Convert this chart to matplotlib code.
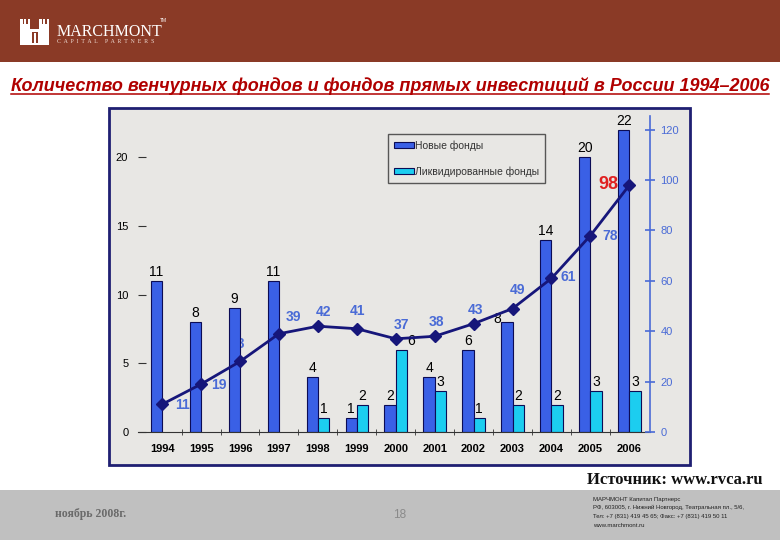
import matplotlib
matplotlib.use("Agg")
import matplotlib.pyplot as plt
from matplotlib.patches import Rectangle
from matplotlib.lines import Line2D
import numpy as np

# ---- data ----
years = ["1994", "1995", "1996", "1997", "1998", "1999", "2000",
         "2001", "2002", "2003", "2004", "2005", "2006"]
new_funds = [11, 8, 9, 11, 4, 1, 2, 4, 6, 8, 14, 20, 22]
liquidated = [0, 0, 0, 0, 1, 2, 6, 3, 1, 2, 2, 3, 3]
total_funds = [11, 19, 28, 39, 42, 41, 37, 38, 43, 49, 61, 78, 98]
legend_labels = ["Новые фонды", "Ликвидированные фонды"]
left_ticks = [0, 5, 10, 15, 20]
right_ticks = [0, 20, 40, 60, 80, 100, 120]

title = "Количество венчурных фондов и фондов прямых инвестиций в России 1994–2006"
source = "Источник: www.rvca.ru"
footer_date = "ноябрь 2008г."
page_no = "18"
contacts = ["МАРЧМОНТ Капитал Партнерс",
            "РФ, 603005, г. Нижний Новгород, Театральная пл., 5/6,",
            "Тел: +7 (831) 419 45 65; Факс: +7 (831) 419 50 11",
            "www.marchmont.ru"]

# label nudges in pixels (style, not data)
line_lbl_off = [(20, -1), (18, -1), (-3, 17), (15, 17), (6, 14), (1, 18), (6, 14),
                (2, 14), (2, 14), (5, 19), (17, 1), (20, 0), (-21, 1)]
new_lbl_off = {9: (-10, -6)}
liq_lbl_off = {6: (10, 0)}

NEW_C = "#3a60e6"
LIQ_C = "#1ccdf0"
EDGE_C = "#0c0c55"
LINE_C = "#16167a"
LBL_C = "#4a6bd6"
AX_BLUE = "#4a6bd6"

W, H = 780, 540
plt.rcParams["font.family"] = ["Liberation Sans", "DejaVu Sans"]
fig = plt.figure(figsize=(W / 100, H / 100), dpi=100)
fig.patch.set_facecolor("white")


def fx(px):
    return px / W


def fy(py):
    return 1 - py / H


def box(x0, y0, x1, y1, **kw):
    r = Rectangle((fx(x0), fy(y1)), (x1 - x0) / W, (y1 - y0) / H,
                  transform=fig.transFigure, **kw)
    fig.add_artist(r)
    return r


# header band + logo
HEAD = "#8a3a26"
box(0, 0, W, 62, facecolor=HEAD, edgecolor="none", zorder=0)
for (a, b, c, d) in [(20, 24, 30, 45), (39, 24, 49, 45), (30, 29, 39, 45),
                     (20, 19, 22.5, 24), (23.8, 19, 26.2, 24), (27.5, 19, 30, 24),
                     (39, 19, 41.5, 24), (42.8, 19, 45.2, 24), (46.5, 19, 49, 24)]:
    box(a, b, c, d, facecolor="white", edgecolor="none", zorder=1)
box(31.5, 32, 37.5, 43, facecolor=HEAD, edgecolor="none", zorder=2)
box(33.5, 33, 35.5, 43, facecolor="white", edgecolor="none", zorder=3)
fig.text(fx(57), fy(32), "MARCHMONT", color="white", fontsize=11.5,
         family="Liberation Serif", ha="left", va="center")
fig.text(fx(160), fy(21), "TM", color="white", fontsize=3.5, ha="left", va="center")
fig.text(fx(57), fy(42), "C  A  P  I  T  A  L     P  A  R  T  N  E  R  S", color="#f0dcd4",
         fontsize=4.2, family="Liberation Serif", ha="left", va="center")

# title with underline
t = fig.text(fx(390), fy(86), title, ha="center", va="center", color="#b00000",
             fontsize=13, fontstyle="italic", fontweight="bold")

# chart panel
box(109, 108, 690, 465, facecolor="#e8e7e4", edgecolor="#1f1f72", lw=2, zorder=0)

ax = fig.add_axes([fx(138), fy(432), (650 - 138) / W, (432 - 116) / H])
ax.patch.set_alpha(0)
ax2 = ax.twinx()
ax2.patch.set_alpha(0)

x = np.arange(len(years))
w = 0.29
bn = ax.bar(x - w / 2, new_funds, w, color=NEW_C, edgecolor=EDGE_C, lw=0.8,
            zorder=2, label=legend_labels[0])
liq_idx = [i for i, v in enumerate(liquidated) if v > 0]
bl = ax.bar(x[liq_idx] + w / 2, [liquidated[i] for i in liq_idx], w, color=LIQ_C,
            edgecolor=EDGE_C, lw=0.8, zorder=2, label=legend_labels[1])

ax.set_xlim(-0.62, 12.53)
ax.set_ylim(0, 23)
ax2.set_ylim(0, 23 * 120 / 22)

# total funds line on the right scale, drawn into ax so it sits over the bars
ax.plot(x, total_funds, color=LINE_C, lw=2, marker="D", ms=6, zorder=4,
        transform=ax2.transData, clip_on=False)

for i, v in enumerate(new_funds):
    dx, dy = new_lbl_off.get(i, (0, 0))
    ax.annotate(str(v), (x[i] - w / 2, v), xytext=(dx, 2 + dy), textcoords="offset pixels",
                ha="center", va="bottom", fontsize=10, color="black", zorder=3)
for i in liq_idx:
    v = liquidated[i]
    dx, dy = liq_lbl_off.get(i, (0, 0))
    ax.annotate(str(v), (x[i] + w / 2, v), xytext=(dx, 2 + dy), textcoords="offset pixels",
                ha="center", va="bottom", fontsize=10, color="black", zorder=3)
for i, v in enumerate(total_funds):
    dx, dy = line_lbl_off[i]
    last = i == len(total_funds) - 1
    ax.annotate(str(v), (x[i], v), xycoords=ax2.transData, xytext=(dx, dy),
                textcoords="offset pixels", ha="center", va="center",
                fontsize=13 if last else 10, fontweight="bold",
                color="#e02020" if last else LBL_C, zorder=1)

# axes styling
for s in ["top", "left", "right"]:
    ax.spines[s].set_visible(False)
ax.spines["bottom"].set_color("#333333")
ax.set_xticks(x, years)
ax.set_xticks(np.arange(0.5, 12, 1), minor=True)
ax.tick_params(axis="x", which="major", length=0, pad=9, labelsize=8)
ax.tick_params(axis="x", which="minor", length=4, direction="inout", color="#333333")
for lab in ax.get_xticklabels():
    lab.set_fontweight("bold")
ax.set_yticks(left_ticks)
ax.tick_params(axis="y", direction="in", length=6, pad=7, labelsize=8, color="#333333")

for s in ["top", "left", "bottom"]:
    ax2.spines[s].set_visible(False)
ax2.spines["right"].set_color(AX_BLUE)
ax2.spines["right"].set_linewidth(1.2)
ax2.set_yticks(right_ticks)
ax2.tick_params(axis="y", colors=AX_BLUE, direction="inout", length=7, width=1.2,
                labelsize=8, pad=4)

leg = ax.legend(handles=[bn, bl], loc="upper left", bbox_to_anchor=(fx(388), fy(134)),
                bbox_transform=fig.transFigure, frameon=True, fancybox=False,
                edgecolor="#333333", facecolor="none", fontsize=7.5, handlelength=1.9,
                handleheight=0.45, handletextpad=0.1, labelspacing=1.5, borderpad=0.6,
                borderaxespad=0)
for txt in leg.get_texts():
    txt.set_color("#333333")

# footer
fig.text(fx(763), fy(480), source, ha="right", va="center", fontsize=12,
         family="Liberation Serif", fontweight="bold", color="#111111")
box(0, 490, W, H, facecolor="#c0c0c0", edgecolor="none", zorder=0)
fig.text(fx(55), fy(514), footer_date, ha="left", va="center", fontsize=8.5,
         family="Liberation Serif", fontweight="bold", color="#6a6a6a")
fig.text(fx(400), fy(515), page_no, ha="center", va="center", fontsize=8.5, color="#8a8a8a")
for k, line in enumerate(contacts):
    fig.text(fx(593), fy(499 + 8.8 * k), line, ha="left", va="center", fontsize=4.3,
             color="#222222")

fig.canvas.draw()
bb = t.get_window_extent()
fig.add_artist(Line2D([bb.x0, bb.x1], [bb.y0 + 1, bb.y0 + 1], color="#b00000", lw=1.1,
                      transform=None))

fig.savefig("out.png", dpi=100)
